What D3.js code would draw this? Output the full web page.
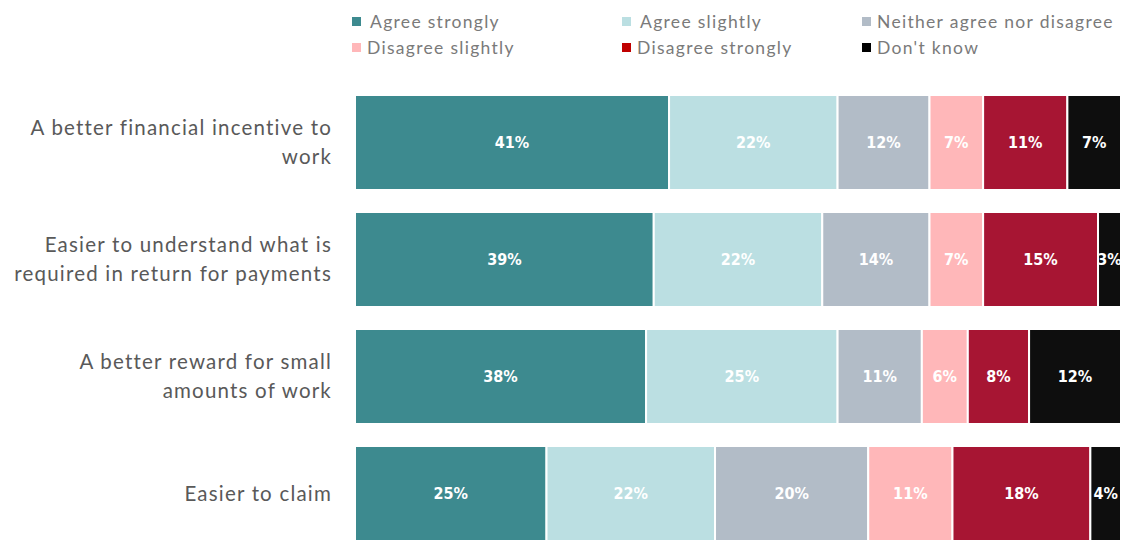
<!DOCTYPE html>
<html>
<head>
<meta charset="utf-8">
<script src="https://cdn.jsdelivr.net/npm/d3@7"></script>
<style>
  body { margin: 0; background: #fff; }
  svg { display: block; }
</style>
</head>
<body>
<script>
// chart data
var categories = [
  ['A better financial incentive to', 'work'],
  ['Easier to understand what is', 'required in return for payments'],
  ['A better reward for small', 'amounts of work'],
  ['Easier to claim']
];
var seriesNames = ['Agree strongly', 'Agree slightly', 'Neither agree nor disagree',
  'Disagree slightly', 'Disagree  strongly', "Don't know"];
var agreeStrongly = [41, 39, 38, 25];
var agreeSlightly = [22, 22, 25, 22];
var neither = [12, 14, 11, 20];
var disagreeSlightly = [7, 7, 6, 11];
var disagreeStrongly = [11, 15, 8, 18];
var dontKnow = [7, 3, 12, 4];
var colors = ['#3d8a8f', '#bbdfe2', '#b2bcc7', '#ffb7b9', '#a71533', '#0e0e0e'];
var legendColors = ['#3d8a8f', '#bbdfe2', '#b2bcc7', '#ffb7b9', '#c00000', '#000000'];

var W = 1123, H = 540;
var svg = d3.select('body').append('svg').attr('width', W).attr('height', H);

var series = [agreeStrongly, agreeSlightly, neither, disagreeSlightly, disagreeStrongly, dontKnow];

var x = d3.scaleLinear().domain([0, 100]).range([355, 1121]);
var y = d3.scaleBand().domain(d3.range(categories.length)).range([95, 541]).paddingInner(0.188).paddingOuter(0);

// stacked bars
var rows = svg.append('g');
categories.forEach(function(c, i) {
  var start = 0;
  series.forEach(function(s, k) {
    var v = s[i];
    var x0 = x(start), x1 = x(start + v);
    rows.append('rect')
      .attr('x', x0).attr('y', y(i))
      .attr('width', x1 - x0).attr('height', y.bandwidth())
      .attr('fill', colors[k])
      .attr('stroke', '#fff').attr('stroke-width', 2);
    rows.append('text')
      .attr('x', (x0 + x1) / 2).attr('y', y(i) + y.bandwidth() / 2)
      .attr('dy', '0.35em')
      .attr('text-anchor', 'middle')
      .attr('fill', '#fff')
      .style('font-family', '"Liberation Sans Narrow", "DejaVu Sans Condensed", sans-serif')
      .style('font-weight', 'bold')
      .style('font-size', '16px')
      .text(v + '%');
    start += v;
  });
});

// category labels
var lineH = 29;
categories.forEach(function(lines, i) {
  var cy = y(i) + y.bandwidth() / 2;
  var t = svg.append('text')
    .attr('text-anchor', 'end')
    .attr('fill', '#595959')
    .style('font-family', 'Lato, "Open Sans", sans-serif')
    .style('font-size', '20.5px')
    .style('letter-spacing', '1.2px');
  lines.forEach(function(l, j) {
    t.append('tspan')
      .attr('x', 332)
      .attr('y', cy + (j - (lines.length - 1) / 2) * lineH)
      .attr('dy', '0.35em')
      .text(l);
  });
});

// legend
var legX = [352, 622, 862], legY = [22, 48];
var leg = svg.append('g');
seriesNames.forEach(function(n, k) {
  var col = k % 3, row = Math.floor(k / 3);
  var g = leg.append('g').attr('transform', 'translate(' + legX[col] + ',' + legY[row] + ')');
  g.append('rect').attr('x', 0).attr('y', -5).attr('width', 9).attr('height', 9).attr('fill', legendColors[k]);
  g.append('text').attr('x', row === 0 && col < 2 ? 18 : 15)
    .attr('dy', '0.35em')
    .attr('fill', '#7a7a7a')
    .style('font-family', 'Lato, "Open Sans", sans-serif')
    .style('font-size', '17.5px')
    .style('letter-spacing', '1.3px')
    .text(n);
});
</script>
</body>
</html>
